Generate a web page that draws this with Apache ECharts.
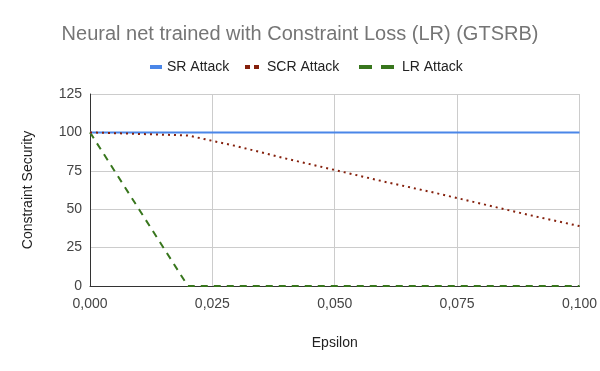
<!DOCTYPE html>
<html>
<head>
<meta charset="utf-8">
<script src="https://cdn.jsdelivr.net/npm/echarts@6/dist/echarts.min.js"></script>
<style>
  html, body { margin: 0; padding: 0; background: #fff; }
  #chart { width: 600px; height: 371px; }
</style>
</head>
<body>
<div id="chart"></div>
<script>
var epsilon = [0, 0.01, 0.02, 0.03, 0.04, 0.05, 0.06, 0.07, 0.08, 0.09, 0.1];
var srAttack = [100, 100, 100, 100, 100, 100, 100, 100, 100, 100, 100];
var scrAttack = [100, 99, 98, 91, 83, 75.5, 68, 61, 53.5, 46, 39];
var lrAttack = [100, 50, 0, 0, 0, 0, 0, 0, 0, 0, 0];
var seriesNames = ["SR Attack", "SCR Attack", "LR Attack"];

function pairs(vals) {
  return epsilon.map(function (x, i) { return [x, vals[i]]; });
}

var chart = echarts.init(document.getElementById("chart"));
var font = "Liberation Sans, Arial, sans-serif";
var legendText = { color: "#222", fontSize: 14, fontFamily: font };
var legendTextWide = { color: "#222", fontSize: 14, fontFamily: font, padding: [0, 0, 0, 3] };
var option = {
  animation: false,
  title: {
    text: "Neural net trained with Constraint Loss (LR) (GTSRB)",
    left: "center",
    top: 19,
    textStyle: { color: "#757575", fontSize: 20, fontWeight: "normal", fontFamily: font },
  },
  // one legend per series so each key can have its own width
  legend: [
    {
      top: 55, left: 145, itemWidth: 12, itemHeight: 4, textStyle: legendText,
      data: [{ name: seriesNames[0], icon: "rect" }],
    },
    {
      top: 55, left: 240, itemWidth: 14, itemHeight: 4, textStyle: legendTextWide,
      data: [{ name: seriesNames[1], icon: "path://M0,0H5V4H0Z M9,0H14V4H9Z" }],
    },
    {
      top: 55, left: 354, itemWidth: 35, itemHeight: 4, textStyle: legendTextWide,
      data: [{ name: seriesNames[2], icon: "path://M0,0H13V4H0Z M22,0H35V4H22Z" }],
    },
  ],
  grid: { left: 90, right: 19, top: 94, bottom: 85 },
  xAxis: {
    type: "value",
    min: 0,
    max: 0.1,
    interval: 0.025,
    name: "Epsilon",
    nameLocation: "middle",
    nameGap: 50,
    nameTextStyle: { color: "#222", fontSize: 14, fontFamily: font },
    axisLine: { lineStyle: { color: "#333" } },
    axisTick: { show: false },
    axisLabel: {
      color: "#444",
      fontSize: 14,
      fontFamily: font,
      margin: 11,
      formatter: function (v) { return v.toFixed(3).replace(".", ","); },
    },
    splitLine: { show: true, lineStyle: { color: "#cccccc" } },
  },
  yAxis: {
    type: "value",
    min: 0,
    max: 125,
    interval: 25,
    name: "Constraint Security",
    nameLocation: "middle",
    nameGap: 55,
    nameTextStyle: { color: "#222", fontSize: 14, fontFamily: font },
    axisLine: { show: true, lineStyle: { color: "#333" } },
    axisTick: { show: false },
    axisLabel: { color: "#444", fontSize: 14, fontFamily: font, margin: 8 },
    splitLine: { lineStyle: { color: "#cccccc" } },
  },
  series: [
    {
      name: seriesNames[0],
      type: "line",
      showSymbol: false,
      data: pairs(srAttack),
      itemStyle: { color: "#4a86e8" },
      lineStyle: { color: "#4a86e8", width: 2 },
    },
    {
      name: seriesNames[1],
      type: "line",
      showSymbol: false,
      data: pairs(scrAttack),
      itemStyle: { color: "#85200c" },
      lineStyle: { color: "#85200c", width: 2, type: [2, 4] },
    },
    {
      name: seriesNames[2],
      type: "line",
      showSymbol: false,
      data: pairs(lrAttack),
      itemStyle: { color: "#38761d" },
      lineStyle: { color: "#38761d", width: 2, type: [7, 6] },
      z: 1,
    },
  ],
};
chart.setOption(option);
</script>
</body>
</html>
